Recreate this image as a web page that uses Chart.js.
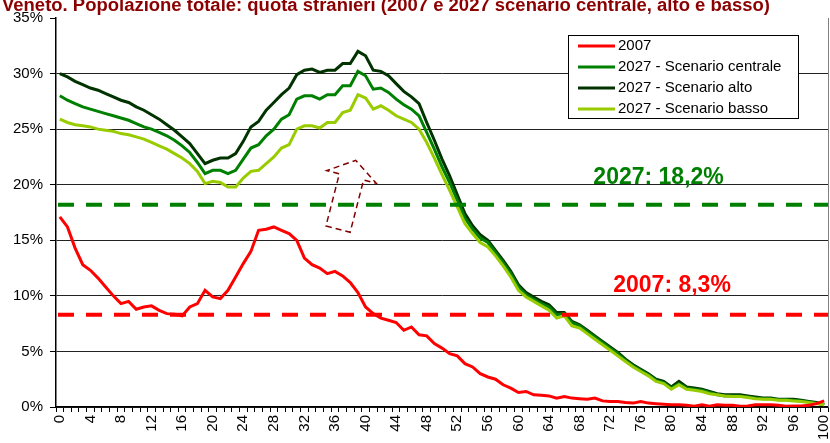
<!DOCTYPE html>
<html>
<head>
<meta charset="utf-8">
<script src="https://cdn.jsdelivr.net/npm/chart.js@4.4.1/dist/chart.umd.min.js"></script>
<style>
  html, body { margin: 0; padding: 0; background: #fff; }
  #box { width: 830px; height: 443px; position: relative; }
</style>
</head>
<body>
<div id="box"><canvas id="grafico" width="830" height="443"></canvas></div>
<script>
// eta' (classi di eta' singola 0..100)
var eta = [0,1,2,3,4,5,6,7,8,9,10,11,12,13,14,15,16,17,18,19,20,21,22,23,24,25,26,27,28,29,30,
  31,32,33,34,35,36,37,38,39,40,41,42,43,44,45,46,47,48,49,50,51,52,53,54,55,56,57,58,59,60,
  61,62,63,64,65,66,67,68,69,70,71,72,73,74,75,76,77,78,79,80,81,82,83,84,85,86,87,88,89,90,
  91,92,93,94,95,96,97,98,99,100];

// quota stranieri (%)
var quota2007 = [17.1,16.2,14.3,12.8,12.3,11.6,10.8,10.0,9.3,9.5,8.8,9.0,9.1,8.7,8.4,8.35,8.2,9.0,9.3,10.5,
  9.9,9.75,10.5,11.7,12.9,14.0,15.9,16.0,16.2,15.9,15.6,15.0,13.4,12.8,12.5,12.0,12.2,11.8,11.2,10.3,
  9.0,8.4,8.0,7.8,7.6,6.9,7.2,6.5,6.4,5.7,5.3,4.8,4.6,3.9,3.6,3.0,2.7,2.5,2.0,1.7,
  1.3,1.4,1.1,1.05,1.0,0.8,0.95,0.8,0.75,0.7,0.8,0.55,0.5,0.5,0.4,0.35,0.5,0.35,0.3,0.25,
  0.2,0.2,0.15,0.07,0.2,0.07,0.2,0.15,0.15,0.07,0.1,0.2,0.2,0.2,0.15,0.07,0.1,0.1,0.15,0.3,0.55];

var scenarioCentrale = [28.0,27.6,27.3,27.0,26.8,26.6,26.4,26.2,26.0,25.8,25.5,25.2,25.0,24.7,24.4,24.0,23.5,22.9,22.0,21.0,
  21.3,21.3,21.0,21.3,22.3,23.3,23.6,24.4,25.0,25.9,26.3,27.7,28.0,28.0,27.7,28.1,28.1,28.9,28.9,30.2,
  29.8,28.6,28.7,28.3,27.7,27.2,26.8,26.2,24.7,23.2,21.6,20.2,18.6,17.0,16.0,15.2,14.8,13.9,13.0,12.0,
  10.8,10.1,9.7,9.3,9.0,8.3,8.4,7.6,7.3,6.8,6.3,5.8,5.3,4.8,4.2,3.7,3.3,2.9,2.4,2.2,
  1.7,2.1,1.7,1.6,1.5,1.3,1.1,1.0,1.0,1.0,0.9,0.8,0.75,0.75,0.65,0.65,0.6,0.55,0.45,0.35,0.2];

var scenarioAlto = [30.0,29.7,29.3,29.0,28.7,28.5,28.2,27.9,27.6,27.4,27.0,26.7,26.3,25.9,25.4,24.9,24.3,23.7,22.8,21.9,
  22.2,22.4,22.4,22.8,23.9,25.2,25.7,26.7,27.4,28.1,28.7,29.9,30.3,30.4,30.1,30.3,30.3,30.9,30.9,32.0,
  31.6,30.3,30.2,29.8,29.1,28.4,27.9,27.3,25.6,24.0,22.3,20.8,19.1,17.4,16.3,15.5,15.0,14.1,13.2,12.2,
  11.0,10.3,9.9,9.5,9.2,8.5,8.5,7.7,7.4,6.9,6.4,5.9,5.4,4.9,4.3,3.8,3.4,3.0,2.5,2.3,
  1.8,2.3,1.8,1.7,1.6,1.4,1.2,1.1,1.1,1.1,1.0,0.9,0.8,0.8,0.7,0.7,0.7,0.6,0.5,0.4,0.2];

var scenarioBasso = [25.9,25.6,25.4,25.3,25.2,25.0,24.9,24.8,24.6,24.5,24.3,24.1,23.8,23.5,23.2,22.8,22.4,21.9,21.2,20.1,
  20.3,20.2,19.8,19.8,20.6,21.2,21.3,21.9,22.5,23.3,23.6,25.0,25.3,25.3,25.1,25.6,25.6,26.5,26.7,28.1,
  27.8,26.8,27.1,26.7,26.2,25.9,25.6,25.0,23.8,22.4,20.9,19.5,18.0,16.5,15.6,14.8,14.4,13.6,12.7,11.7,
  10.5,9.9,9.5,9.1,8.7,8.0,8.2,7.3,7.1,6.6,6.1,5.6,5.1,4.6,4.1,3.6,3.2,2.8,2.3,2.1,
  1.6,2.0,1.6,1.5,1.4,1.2,1.1,1.0,0.95,0.95,0.85,0.75,0.7,0.7,0.6,0.6,0.55,0.5,0.4,0.3,0.2];

// medie complessive
var media2007 = 8.3;
var media2027 = 18.2;

var titolo = 'Veneto. Popolazione totale: quota stranieri (2007 e 2027 scenario centrale, alto e basso)';
var font = '"Liberation Sans", Arial, sans-serif';

// decorazioni: titolo, linee medie, etichette, freccia, legenda
var decorPlugin = {
  id: 'decor',
  afterDatasetsDraw: function(chart) {
    var ctx = chart.ctx, a = chart.chartArea, ys = chart.scales.y;
    ctx.save();
    ctx.lineWidth = 4;
    ctx.setLineDash([16, 12]);
    var medie = [[media2027, '#008000'], [media2007, '#ff0000']];
    medie.forEach(function(m) {
      var y = ys.getPixelForValue(m[0]);
      ctx.strokeStyle = m[1];
      ctx.beginPath();
      ctx.moveTo(a.left + 2, y);
      ctx.lineTo(a.right, y);
      ctx.stroke();
    });
    ctx.restore();
  },
  afterDraw: function(chart) {
    var ctx = chart.ctx, a = chart.chartArea;
    var xs = chart.scales.x, ys = chart.scales.y;
    ctx.save();

    // bordo destro area
    ctx.strokeStyle = '#808080';
    ctx.lineWidth = 1;
    ctx.beginPath();
    ctx.moveTo(a.right + 0.5, a.top);
    ctx.lineTo(a.right + 0.5, a.bottom);
    ctx.stroke();

    // titolo
    ctx.fillStyle = '#8b0000';
    ctx.font = 'bold 18px ' + font;
    ctx.textBaseline = 'alphabetic';
    ctx.textAlign = 'left';
    var w = ctx.measureText(titolo).width;
    ctx.save();
    ctx.translate(2, 11);
    ctx.scale(768 / w, 1);
    ctx.fillText(titolo, 0, 0);
    ctx.restore();

    // etichette medie
    ctx.font = 'bold 23px ' + font;
    ctx.fillStyle = '#008000';
    ctx.fillText('2027: ' + String(media2027).replace('.', ',') + '%', xs.getPixelForValue(69.8), ys.getPixelForValue(20.0) - 1);
    ctx.fillStyle = '#ff0000';
    ctx.fillText('2007: ' + String(media2007).replace('.', ',') + '%', xs.getPixelForValue(72.4), ys.getPixelForValue(10.3) - 1);

    // freccia tratteggiata
    var ox = xs.getPixelForValue(36.4), oy = ys.getPixelForValue(16.0);
    var th = 14.4 * Math.PI / 180;
    var ux = Math.sin(th), uy = -Math.cos(th), px = Math.cos(th), py = Math.sin(th);
    var forma = [[-12.5, 0], [12.5, 0], [12.5, 54], [25.5, 54], [0, 71], [-25.5, 54], [-12.5, 54]];
    ctx.strokeStyle = '#800000';
    ctx.lineWidth = 1.5;
    ctx.setLineDash([6, 4]);
    ctx.beginPath();
    forma.forEach(function(p, i) {
      var X = ox + p[0] * px + p[1] * ux, Y = oy + p[0] * py + p[1] * uy;
      if (i === 0) ctx.moveTo(X, Y); else ctx.lineTo(X, Y);
    });
    ctx.closePath();
    ctx.stroke();
    ctx.setLineDash([]);

    // legenda
    var lx = 568, ly = 35, lw = 230, lh = 83;
    ctx.fillStyle = '#fff';
    ctx.fillRect(lx, ly, lw, lh);
    ctx.strokeStyle = '#000';
    ctx.lineWidth = 1;
    ctx.strokeRect(lx + 0.5, ly + 0.5, lw, lh);
    ctx.font = '15px ' + font;
    ctx.textBaseline = 'middle';
    chart.data.datasets.forEach(function(ds, i) {
      var yy = ly + 11 + i * 21;
      ctx.strokeStyle = ds.borderColor;
      ctx.lineWidth = 3;
      ctx.beginPath();
      ctx.moveTo(lx + 10, yy);
      ctx.lineTo(lx + 47, yy);
      ctx.stroke();
      ctx.fillStyle = '#000';
      ctx.fillText(ds.label, lx + 50, yy);
    });
    ctx.restore();
  }
};

var serie = function(label, data, colore, ordine) {
  return { label: label, data: data, borderColor: colore, backgroundColor: colore,
    borderWidth: 3, pointRadius: 0, tension: 0, fill: false, order: ordine };
};

new Chart(document.getElementById('grafico'), {
  type: 'line',
  data: {
    labels: eta,
    datasets: [
      serie('2007', quota2007, '#ff0000', 0),
      serie('2027 - Scenario centrale', scenarioCentrale, '#008000', 2),
      serie('2027 - Scenario alto', scenarioAlto, '#003300', 3),
      serie('2027 - Scenario basso', scenarioBasso, '#99cc00', 1)
    ]
  },
  options: {
    responsive: false,
    animation: false,
    layout: { padding: { top: 18, right: 2, left: 0, bottom: 0 } },
    plugins: { legend: { display: false }, tooltip: { enabled: false }, title: { display: false } },
    scales: {
      x: {
        offset: true,
        grid: { offset: true, drawOnChartArea: false, tickLength: 5, tickColor: '#000' },
        border: { color: '#000', width: 1.5 },
        ticks: {
          autoSkip: false, minRotation: 90, maxRotation: 90, padding: 3, color: '#000',
          font: { size: 15, family: font },
          callback: function(v, i) { return i % 4 === 0 ? String(eta[i]) : ''; }
        },
        afterFit: function(s) { s.height = 36; s.paddingLeft = 0; s.paddingRight = 0; }
      },
      y: {
        min: 0, max: 35,
        grid: {
          color: function(c) { return c.tick && c.tick.value === 35 ? 'rgba(0,0,0,0)' : '#222'; },
          tickColor: '#000', tickLength: 6, lineWidth: 1
        },
        border: { color: '#000', width: 1.5 },
        ticks: {
          stepSize: 5, padding: 7, color: '#000',
          font: { size: 15, family: font },
          callback: function(v) { return v + '%'; }
        },
        afterFit: function(s) { s.width = 56; s.paddingTop = 0; s.paddingBottom = 0; }
      }
    }
  },
  plugins: [decorPlugin]
});
</script>
</body>
</html>
